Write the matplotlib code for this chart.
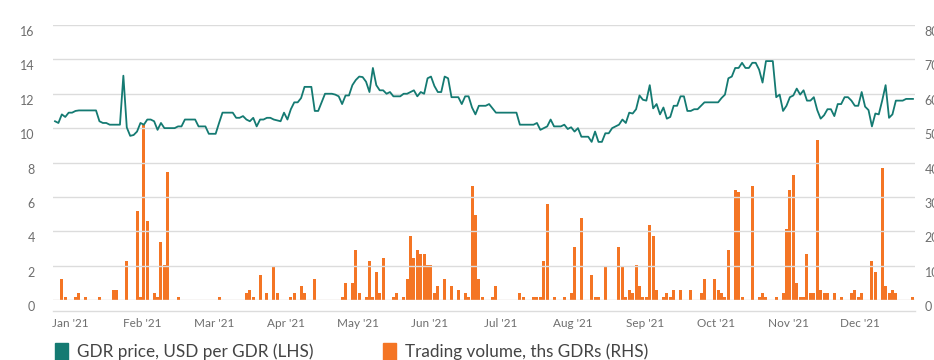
import matplotlib
matplotlib.use("Agg")
import matplotlib.pyplot as plt
import matplotlib.transforms as mtransforms
from matplotlib.patches import Rectangle
import numpy as np

plt.rcParams['font.family'] = ['Lato', 'DejaVu Sans']

# daily GDR close, USD (one value per trading day, 2021)
price = [
    10.4, 10.3, 10.8, 10.65, 10.9, 10.9, 11.0, 11.03, 11.03, 11.03,
    11.03, 11.03, 11.03, 10.4, 10.3, 10.3, 10.2, 10.2, 10.2, 10.2,
    13.05, 10.04, 9.55, 9.6, 9.8, 10.3, 10.2, 10.5, 10.5, 10.4,
    9.9, 10.3, 10.0, 10.0, 10.0, 10.0, 10.1, 10.1, 10.5, 10.5,
    10.5, 10.5, 10.1, 10.1, 10.1, 9.67, 9.67, 9.67, 10.3, 10.9,
    10.9, 10.9, 10.9, 10.6, 10.6, 10.7, 10.5, 10.4, 10.6, 10.1,
    10.5, 10.5, 10.6, 10.6, 10.5, 10.45, 10.4, 10.9, 10.5, 11.1,
    11.5, 11.5, 11.75, 12.4, 12.4, 12.4, 11.0, 11.0, 11.5, 12.0,
    12.0, 12.0, 11.95, 11.85, 11.4, 11.9, 11.9, 12.5, 12.8, 13.0,
    12.97, 12.7, 12.1, 13.5, 12.5, 12.2, 12.2, 12.0, 12.1, 11.85,
    11.85, 11.85, 12.0, 12.0, 12.1, 12.2, 11.85, 12.1, 12.0, 12.9,
    13.0, 12.45, 12.1, 12.1, 13.0, 12.9, 11.8, 11.8, 11.8, 11.4,
    11.85, 11.85, 11.2, 10.8, 11.3, 11.3, 11.3, 11.4, 11.15, 10.9,
    10.9, 10.9, 10.9, 10.9, 10.9, 10.9, 10.2, 10.2, 10.2, 10.2,
    10.2, 10.3, 9.9, 10.0, 10.1, 10.5, 10.1, 10.1, 10.1, 10.2,
    9.95, 10.05, 9.8, 10.0, 9.5, 9.5, 9.5, 9.2, 9.8, 9.2,
    9.2, 9.7, 9.7, 10.0, 10.1, 10.2, 10.5, 10.3, 10.9, 10.85,
    11.1, 11.9, 11.65, 11.6, 12.5, 11.15, 11.4, 10.8, 11.2, 10.55,
    10.65, 11.3, 11.3, 11.85, 11.85, 11.0, 11.0, 11.1, 11.1, 11.3,
    11.5, 11.5, 11.5, 11.5, 11.5, 11.75, 11.95, 12.9, 13.0, 13.5,
    13.5, 13.8, 13.5, 13.5, 13.8, 13.8, 13.4, 12.65, 13.9, 13.9,
    13.9, 11.8, 11.95, 11.0, 11.3, 11.8, 11.9, 12.3, 11.95, 12.2,
    11.6, 11.6, 11.8, 11.05, 10.55, 10.75, 11.1, 11.1, 10.7, 11.4,
    11.4, 11.8, 11.8, 11.6, 11.3, 11.3, 12.1, 11.25, 11.05, 10.1,
    10.85, 10.8, 11.6, 12.5, 10.6, 10.8, 11.6, 11.6, 11.6, 11.7,
    11.7, 11.7,
]

# daily trading volume, ths GDRs
volume = [
    0, 0, 6.2, 1.0, 0, 0, 1.0, 2.0, 0, 1.0,
    0, 0, 0, 1.0, 0, 0, 0, 3.0, 3.0, 0,
    0, 11.4, 0, 0, 26.0, 1.0, 51.0, 22.9, 0, 2.0,
    1.0, 16.8, 10.3, 37.3, 0, 0, 1.0, 0, 0, 0,
    0, 0, 0, 0, 0, 0, 0, 0, 1.0, 0,
    0, 0, 0, 0, 0, 0, 2.0, 3.0, 1.0, 0,
    7.4, 0, 2.0, 0, 9.5, 2.0, 0, 0, 0, 1.0,
    2.0, 0, 4.2, 2.0, 0, 0, 6.2, 0, 0, 0,
    0, 0, 0, 0, 1.0, 5.0, 0, 5.0, 14.6, 2.0,
    0, 1.0, 11.4, 1.0, 8.1, 2.0, 12.2, 0, 0, 1.0,
    2.0, 0, 1.0, 6.2, 18.7, 12.2, 14.6, 13.4, 13.4, 10.3,
    10.3, 2.0, 4.2, 0, 6.2, 0, 4.2, 0, 3.0, 0,
    2.0, 1.0, 33.2, 24.8, 6.2, 1.0, 0, 0, 1.0, 4.2,
    0, 0, 0, 0, 0, 0, 2.0, 1.0, 0, 0,
    1.0, 1.0, 1.0, 11.4, 28.0, 0, 1.0, 0, 0, 1.0,
    0, 2.0, 15.4, 0, 23.8, 0, 0, 7.4, 1.0, 1.0,
    0, 9.5, 0, 0, 0, 15.4, 9.5, 1.0, 3.0, 2.0,
    10.3, 4.2, 1.0, 1.0, 21.9, 18.7, 3.0, 0, 1.0, 2.0,
    1.0, 3.0, 0, 3.0, 0, 0, 3.0, 0, 0, 2.0,
    6.2, 0, 0, 6.2, 3.0, 2.0, 1.0, 14.6, 0, 32.1,
    31.3, 1.0, 0, 0, 33.2, 0, 1.0, 2.0, 1.0, 0,
    0, 1.0, 0, 2.0, 20.7, 32.1, 36.4, 5.0, 1.0, 1.0,
    13.5, 2.0, 2.0, 46.6, 3.0, 2.0, 2.0, 0, 2.0, 0,
    1.0, 0, 0, 2.0, 3.0, 1.0, 2.0, 0, 0, 11.4,
    8.1, 0, 38.4, 4.2, 2.0, 3.0, 2.0, 0, 0, 0,
    0, 1.0,
]

month_labels = ["Jan '21", "Feb '21", "Mar '21", "Apr '21", "May '21", "Jun '21",
                "Jul '21", "Aug '21", "Sep '21", "Oct '21", "Nov '21", "Dec '21"]

teal = '#147a72'
orange = '#f47524'
grid = '#dcdcdc'
txt = '#6e6e6e'

x = np.arange(len(price))

fig = plt.figure(figsize=(9.34, 3.6), dpi=100)
ax = fig.add_axes([53 / 934, 1 - 300 / 360, 862 / 934, 275 / 360])
ax2 = ax.twinx()

# volume bars on the right axis, behind the price line
ax2.bar(x, volume, width=0.88, color=orange, linewidth=0)
ax2.axhline(0, color=orange, lw=0.8, alpha=0.35)
ax2.set_ylim(0, 80)
ax2.set_yticks(np.arange(0, 81, 10))

ax.plot(x, price, color=teal, lw=1.3)
ax.set_ylim(0, 16)
ax.set_yticks(np.arange(0, 17, 2))
ax.set_zorder(ax2.get_zorder() + 1)
ax.patch.set_visible(False)

ax.set_xlim(-0.585, 251.6)
ax.set_xticks(4.53 + 21.0 * np.arange(12))
ax.set_xticklabels(month_labels)

ax.grid(axis='y', color=grid, lw=1)
for a in (ax, ax2):
    for s in ('top', 'left', 'right', 'bottom'):
        a.spines[s].set_visible(False)
ax.spines['bottom'].set_visible(True)
ax.spines['bottom'].set_position(('outward', 8))
ax.spines['bottom'].set_color(grid)
ax.spines['bottom'].set_linewidth(1)

ax.tick_params(axis='y', length=0, pad=13, labelsize=9, labelcolor=txt)
ax2.tick_params(axis='y', length=0, pad=7, labelsize=9, labelcolor=txt)
ax.tick_params(axis='x', length=0, pad=5, labelsize=8.5, labelcolor=txt)

# value labels sit a little below their gridlines
shift = mtransforms.ScaledTranslation(0, -6 / 100, fig.dpi_scale_trans)
for lab in ax.get_yticklabels() + ax2.get_yticklabels():
    lab.set_transform(lab.get_transform() + shift)

# legend
fig.patches.append(Rectangle((55 / 934, 0), 13 / 934, 17 / 360,
                             transform=fig.transFigure, color=teal))
fig.text(77 / 934, 1 - 352 / 360, 'GDR price, USD per GDR (LHS)', fontsize=12.3,
         color='#444444', va='center')
fig.patches.append(Rectangle((383 / 934, 0), 13 / 934, 17 / 360,
                             transform=fig.transFigure, color=orange))
fig.text(405 / 934, 1 - 352 / 360, 'Trading volume, ths GDRs (RHS)', fontsize=12.3,
         color='#444444', va='center')

fig.savefig('out.png', dpi=100)
